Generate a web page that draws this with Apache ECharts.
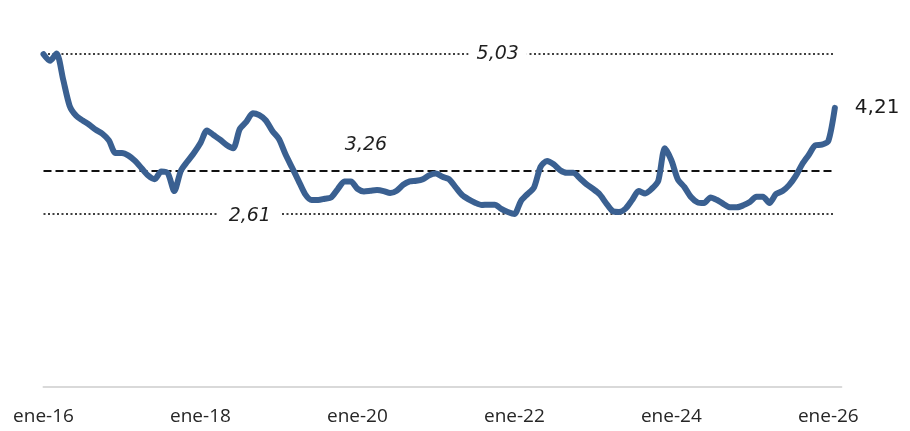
<!DOCTYPE html>
<html>
<head>
<meta charset="utf-8">
<script src="https://cdn.jsdelivr.net/npm/echarts@6/dist/echarts.min.js"></script>
<style>
html,body{margin:0;padding:0;background:#fff;}
#chart{width:910px;height:431px;}
</style>
</head>
<body>
<div id="chart"></div>
<script>
// Month abbreviations (Spanish) and years covered
var monthNames = ['ene','feb','mar','abr','may','jun','jul','ago','sep','oct','nov','dic'];
var startYear = 2016;
var monthCount = 123; // ene-16 .. mar-26 (last month without value)

var categories = [];
for (var i = 0; i < monthCount; i++) {
  var y = startYear + Math.floor(i / 12);
  categories.push(monthNames[i % 12] + '-' + String(y).slice(2));
}

// Series values (monthly, ene-16 .. feb-26)
var values = [
  5.02, 4.92, 5.03, 4.64, 4.24, 4.09, 4.02, 3.955, 3.88, 3.82, 3.72, 3.53,
  3.53, 3.49, 3.41, 3.30, 3.19, 3.135, 3.25, 3.225, 2.955, 3.26, 3.40, 3.53,
  3.68, 3.87, 3.80, 3.73, 3.65, 3.60, 3.89, 4.00, 4.13, 4.10, 4.02, 3.86,
  3.74, 3.51, 3.31, 3.11, 2.91, 2.82, 2.82, 2.84, 2.86, 2.985, 3.10, 3.10,
  2.99, 2.95, 2.96, 2.97, 2.955, 2.925, 2.96, 3.05, 3.10, 3.11, 3.135, 3.195,
  3.22, 3.17, 3.135, 3.015, 2.895, 2.83, 2.78, 2.745, 2.75, 2.75, 2.685, 2.64,
  2.61, 2.805, 2.91, 3.01, 3.32, 3.41, 3.36, 3.27, 3.23, 3.23, 3.15, 3.06,
  2.99, 2.91, 2.775, 2.655, 2.64, 2.69, 2.82, 2.955, 2.92, 2.99, 3.11, 3.60,
  3.42, 3.13, 3.015, 2.865, 2.785, 2.775, 2.86, 2.82, 2.76, 2.71, 2.71, 2.74,
  2.79, 2.87, 2.87, 2.775, 2.91, 2.955, 3.045, 3.18, 3.36, 3.50, 3.645, 3.655,
  3.71, 4.21, null
];

// Reference levels
var maxLevel = 5.03;
var meanLevel = 3.26;
var minLevel = 2.61;
var lastLabel = '4,21';

function fmt(v){ return v.toFixed(2).replace('.', ','); }

var lastIdx = 121;

var chart = echarts.init(document.getElementById('chart'), null, {renderer:'canvas'});
var option = {
  animation: false,
  backgroundColor: '#ffffff',
  grid: { left: 43.5, right: 68.6, top: 22.35, bottom: 44, containLabel: false },
  xAxis: {
    type: 'category',
    data: categories,
    boundaryGap: false,
    axisLine: { show: true, lineStyle: { color: '#d9d9d9', width: 2 } },
    axisTick: { show: false },
    splitLine: { show: false },
    axisLabel: {
      interval: function (idx) { return idx % 24 === 0; },
      margin: 20,
      fontFamily: 'Open Sans',
      fontSize: 19,
      color: '#262626'
    }
  },
  yAxis: {
    type: 'value',
    min: 0,
    max: 5.5,
    show: false,
    splitLine: { show: false }
  },
  series: [{
    type: 'line',
    data: values,
    smooth: 0.25,
    showSymbol: false,
    symbol: 'none',
    connectNulls: false,
    lineStyle: { color: '#3a6091', width: 6, cap: 'round', join: 'round' },
    z: 5,
    endLabel: {
      show: true,
      formatter: function(){ return lastLabel; },
      distance: 20,
      fontFamily: 'DejaVu Sans',
      fontSize: 20,
      color: '#1a1a1a'
    },
    markLine: {
      silent: true,
      symbol: ['none','none'],
      label: { show: false },
      z: 2,
      data: [
        [{ coord: [categories[0], maxLevel], lineStyle: { type: [2, 2.5], width: 2, color: '#404040' } },
         { coord: [categories[lastIdx], maxLevel] }],
        [{ coord: [categories[0], meanLevel], lineStyle: { type: [8, 4], width: 2, color: '#111111' } },
         { coord: [categories[lastIdx], meanLevel] }],
        [{ coord: [categories[0], minLevel], lineStyle: { type: [2, 2.5], width: 2, color: '#404040' } },
         { coord: [categories[lastIdx], minLevel] }]
      ]
    },
    markPoint: {
      silent: true,
      symbol: 'circle',
      symbolSize: 1,
      itemStyle: { color: 'rgba(0,0,0,0)' },
      z: 3,
      label: {
        show: true,
        position: 'inside',
        fontFamily: 'DejaVu Sans',
        fontStyle: 'italic',
        fontSize: 19,
        color: '#1f1f1f'
      },
      data: [
        { coord: [categories[69], maxLevel], value: fmt(maxLevel),
          label: { formatter: fmt(maxLevel), backgroundColor: '#ffffff', padding: [2, 8, 2, 8], offset: [3, 1] } },
        { coord: [categories[49], meanLevel], value: fmt(meanLevel),
          label: { formatter: fmt(meanLevel), offset: [2, -26] } },
        { coord: [categories[32], minLevel], value: fmt(minLevel),
          label: { formatter: fmt(minLevel), backgroundColor: '#ffffff', padding: [2, 11, 2, 11], offset: [-3, 2] } }
      ]
    }
  }]
};
chart.setOption(option);
</script>
</body>
</html>
